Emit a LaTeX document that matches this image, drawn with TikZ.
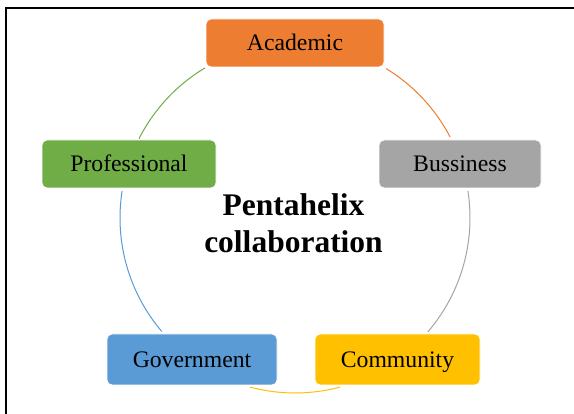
\documentclass[tikz,border=0pt]{standalone}
\usepackage{fontspec}
\setmainfont{Liberation Serif}
\definecolor{cOrange}{HTML}{ED7D31}
\definecolor{cGray}{HTML}{A5A5A5}
\definecolor{cYellow}{HTML}{FFC000}
\definecolor{cBlue}{HTML}{5B9BD5}
\definecolor{cGreen}{HTML}{70AD47}
\tikzset{
  pbox/.style={draw=white, line width=0.8pt, rounded corners=5pt, inner sep=0pt,
    minimum height=48pt, text height=15.5pt, text depth=0pt,
    font=\fontsize{23.7}{28}\selectfont, text=black},
  ring/.style={line width=1pt},
}
\begin{document}
\begin{tikzpicture}[x=1pt,y=1pt]
\useasboundingbox (0,0) rectangle (574,414);
\fill[white] (0,0) rectangle (574,414);
% frame
\draw[line width=1.6pt] (6,0) -- (6,406) -- (574,406);
% circle centre
\coordinate (c) at (295,196);
% arcs
\draw[ring, cGreen]  ([shift={(c)}]121:175) arc (121:153:175);
\draw[ring, cOrange] ([shift={(c)}]58.6:175) arc (58.6:27.6:175);
\draw[ring, cGray]   ([shift={(c)}]8.9:175) arc (8.9:-40.6:175);
\draw[ring, cYellow] ([shift={(c)}]-75.1:175) arc (-75.1:-104.9:175);
\draw[ring, cBlue]   ([shift={(c)}]-139.6:175) arc (-139.6:-188.9:175);
% boxes
\node[pbox, fill=cOrange, minimum width=178pt] (acad) at (295,371) {Academic};
\node[pbox, fill=cGreen, minimum width=174pt] (prof) at (129,250) {Professional};
\node[pbox, fill=cGray, minimum width=162pt] (buss) at (460,250) {Bussiness};
\node[pbox, fill=cBlue, minimum width=170pt, minimum height=51pt] (gov) at (192,54.5) {Government};
\node[pbox, fill=cYellow, minimum width=165pt, minimum height=51pt] (comm) at (397.5,54.5) {Community};
% centre title
\node[align=center, anchor=base, font=\fontsize{31.5}{36.7}\selectfont\bfseries, inner sep=0pt] (title) at (293.5,161.3) {Pentahelix\\collaboration};
\end{tikzpicture}
\end{document}
